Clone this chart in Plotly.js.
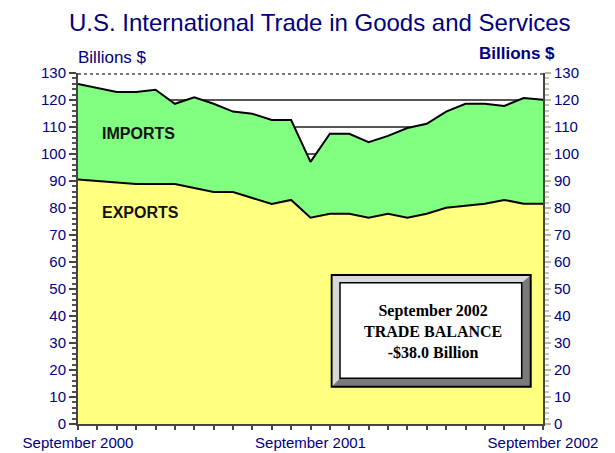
<!DOCTYPE html>
<html><head><meta charset="utf-8">
<script src="https://cdn.plot.ly/plotly-3.0.1.min.js"></script>
<style>html,body{margin:0;padding:0;background:#fff;}#chart{width:615px;height:453px;}</style>
</head><body><div id="chart"></div>
<script>
var months = ['2000-09','2000-10','2000-11','2000-12','2001-01','2001-02','2001-03','2001-04','2001-05','2001-06','2001-07','2001-08','2001-09','2001-10','2001-11','2001-12','2002-01','2002-02','2002-03','2002-04','2002-05','2002-06','2002-07','2002-08','2002-09'];
var monthLabels = ['September 2000','','','','','','','','','','','','September 2001','','','','','','','','','','','','September 2002'];
var imports = [125.9,124.4,123.0,123.0,123.8,118.6,121.0,118.6,115.7,114.9,112.6,112.6,97.1,107.5,107.5,104.4,106.7,109.6,111.2,115.7,118.6,118.6,117.8,120.7,120.1];
var exports_ = [90.6,90.0,89.5,88.9,88.9,88.9,87.4,85.9,85.9,83.7,81.5,83.0,76.4,77.9,77.9,76.4,77.9,76.4,77.9,80.1,80.9,81.6,83.0,81.6,81.6];
var yTicks = [0,10,20,30,40,50,60,70,80,90,100,110,120,130];

var navy = '#000080';
var font = 'Arial, "Liberation Sans", sans-serif';

var traces = [
  {x: months, y: imports, type:'scatter', mode:'lines', fill:'tozeroy', fillcolor:'#80FF80',
   line:{color:'#000', width:2}, hoverinfo:'skip'},
  {x: months, y: exports_, type:'scatter', mode:'lines', fill:'tozeroy', fillcolor:'#FFFF80',
   line:{color:'#000', width:2}, hoverinfo:'skip'},
  {x: months, y: exports_, type:'scatter', mode:'none', yaxis:'y2', hoverinfo:'skip', showlegend:false}
];

function px(x){return (x-78)/465;}
function py(y){return (424-y)/351;}

var layout = {
  width:615, height:453,
  margin:{l:78, r:72, t:73, b:29},
  paper_bgcolor:'#fff', plot_bgcolor:'#fff',
  showlegend:false,
  font:{family:font, color:navy, size:15},
  title:{text:'U.S. International Trade in Goods and Services', x:0.52, xanchor:'center', y:1-23/453, yanchor:'middle',
         font:{family:font, size:24, color:navy}},
  xaxis:{type:'category', range:[0,24], tickmode:'array', tickvals:months, ticktext:monthLabels,
         ticks:'outside', ticklen:4, tickcolor:'#444', tickwidth:2, showgrid:false,
         showline:true, linecolor:'#444', linewidth:2, tickangle:0,
         tickfont:{family:font, size:15, color:navy}, zeroline:false},
  yaxis:{range:[0,130], tickvals:yTicks, ticks:'outside', ticklen:7, tickcolor:'#444', tickwidth:2,
         showline:true, linecolor:'#444', linewidth:2, showgrid:true, gridcolor:'#555', gridwidth:1.5,
         minor:{dtick:2, ticklen:4, tickcolor:'#555', tickwidth:2, showgrid:false, ticks:'outside'},
         tickfont:{family:font, size:15, color:navy}, zeroline:false, fixedrange:true},
  yaxis2:{range:[0,130], tickvals:yTicks, overlaying:'y', side:'right', ticks:'outside', ticklen:6,
          tickcolor:'#b8b89a', tickwidth:2, showline:true, linecolor:'#444', linewidth:2, showgrid:false,
          minor:{dtick:2, ticklen:4, tickcolor:'#c8c8b0', tickwidth:2, ticks:'outside'},
          tickfont:{family:font, size:15, color:navy}, zeroline:false},
  annotations:[
    {xref:'paper', yref:'paper', x:px(76), y:py(58), xanchor:'left', yanchor:'middle', showarrow:false,
     text:'Billions $', font:{family:font, size:17, color:navy}},
    {xref:'paper', yref:'paper', x:px(517), y:py(53), xanchor:'center', yanchor:'middle', showarrow:false,
     text:'<b>Billions $</b>', font:{family:font, size:17, color:navy}},
    {xref:'x', yref:'y', x:'2000-10', y:107.5, xanchor:'left', xshift:3, showarrow:false,
     text:'<b>IMPORTS</b>', font:{family:font, size:16, color:'#111'}},
    {xref:'x', yref:'y', x:'2000-10', y:78.3, xanchor:'left', xshift:3, showarrow:false,
     text:'<b>EXPORTS</b>', font:{family:font, size:16, color:'#111'}},
    {xref:'paper', yref:'paper', x:px(433), y:py(331), xanchor:'center', yanchor:'middle', showarrow:false, align:'center',
     text:'<b>September 2002<br>TRADE BALANCE<br>-$38.0 Billion</b>',
     font:{family:'"Liberation Serif", "Times New Roman", serif', size:16, color:'#000'}}
  ],
  shapes:[
    {type:'line', xref:'paper', yref:'paper', x0:0, x1:1, y0:py(74), y1:py(74), line:{color:'#777', width:2, dash:'dot'}, layer:'above'},
    {type:'rect', xref:'paper', yref:'paper', x0:px(331.7), x1:px(530.7), y0:py(386.7), y1:py(275),
     fillcolor:'#7a7a7a', line:{color:'#000', width:2}},
    {type:'path', xref:'paper', yref:'paper',
     path:'M '+px(332.7)+','+py(276)+' L '+px(529.7)+','+py(276)+' L '+px(521.7)+','+py(282.7)+' L '+px(340)+','+py(282.7)+' L '+px(340)+','+py(378.3)+' L '+px(332.7)+','+py(385.7)+' Z',
     fillcolor:'#d8d8d8', line:{width:0}},
    {type:'rect', xref:'paper', yref:'paper', x0:px(340), x1:px(521.7), y0:py(378.3), y1:py(282.7),
     fillcolor:'#fff', line:{color:'#000', width:1.5}}
  ]
};
Plotly.newPlot('chart', traces, layout, {staticPlot:true, displayModeBar:false});
</script></body></html>
